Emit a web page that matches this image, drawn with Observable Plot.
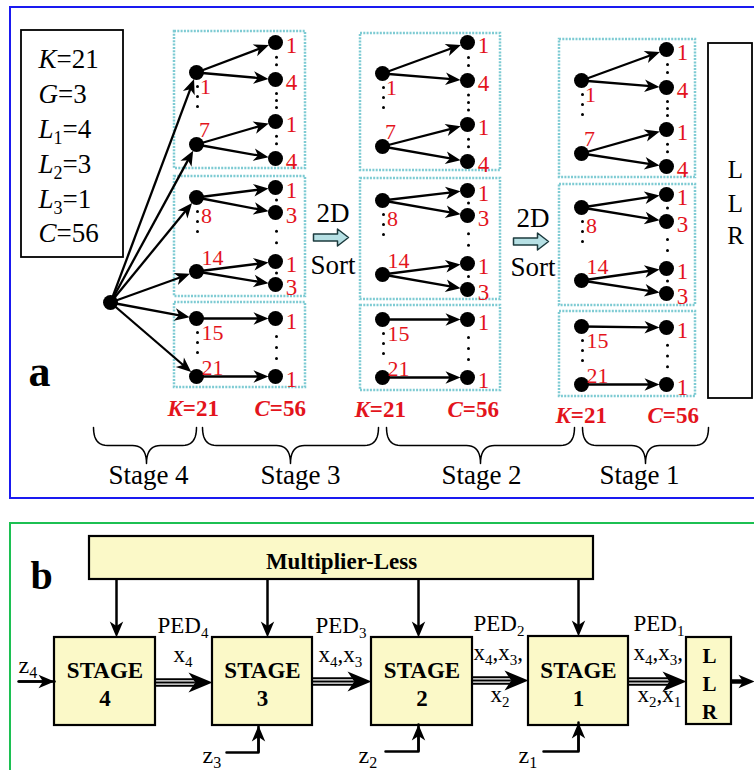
<!DOCTYPE html>
<html><head><meta charset="utf-8">
<script src="https://cdn.jsdelivr.net/npm/d3@7"></script>
<script src="https://cdn.jsdelivr.net/npm/@observablehq/plot@0.6"></script>
<style>html,body{margin:0;padding:0;background:#fff;} svg{display:block}</style>
</head><body><div id="chart"></div>
<script>
// ================= DATA =================
// Panel a: parameters
const paramLetters = ["K", "G", "L", "L", "L", "C"];
const paramSubs = ["", "", "1", "2", "3", ""];
const paramValues = ["=21", "=3", "=4", "=3", "=1", "=56"];
const paramBaselines = [67, 102, 137, 172, 207, 241];

// Panel a: tree nodes (three columns after Stage 4)
const rootNode = {x: 110, y: 302};
const colLeftX = [196, 382, 581];
const colRightX = [275, 467, 666];
const leftIds = ["1", "7", "8", "14", "15", "21"];
const leftY = [[72, 144, 197, 271, 318, 376], [73, 146, 200, 274, 319, 377], [80, 153, 207, 280, 326, 384]];
const rightIds = ["1", "4", "1", "4", "1", "3", "1", "3", "1", "1"];
const rightY = [[42, 79, 121, 158, 187, 212, 261, 284, 318, 376], [42, 80, 124, 161, 190, 215, 263, 289, 319, 377], [49, 87, 129, 166, 194, 221, 268, 293, 327, 384]];
const edgeFrom = [0, 0, 1, 1, 2, 2, 3, 3, 4, 5];
const leftLabelDx = [9, 8, 10, 16, 16, 16];
const leftLabelDy = [14, -15, 18, -14, 14, -9];
const groupX = [[174, 305], [360, 500], [559, 695]];
const groupY = [[[31, 168], [176, 296], [302, 387]], [[33, 170], [178, 299], [305, 390]], [[39, 177], [184, 305], [311, 396]]];
const leftGaps = [[0, 1], [2, 3], [4, 5]];
const rightGaps = [[0, 1, 2], [1, 2, 3], [2, 3, 2], [4, 5, 1], [5, 6, 2], [6, 7, 1], [8, 9, 3]];
const kLabelX = [167, 354, 555];
const cLabelX = [254, 447, 647];
const kcBaseline = [415, 416, 422];
const sortX = [[313, 348], [513, 548]];
const sortArrowY = [237, 241];
const sort2DY = [212, 217];
const sortWordY = [264, 266];
const stageNames = ["Stage 4", "Stage 3", "Stage 2", "Stage 1"];
const stageLabelX = [148, 300, 481, 639];
const braceX = [[93, 196, 146], [202, 378, 290], [386, 574, 480], [582, 708, 645]];
const llrLetters = ["L", "L", "R"];
const llrABaselines = [177, 211, 243];

// Panel b: block diagram
const stageBoxX = [[54, 155], [212, 312], [371, 472], [528, 628]];
const stageBoxDigits = ["4", "3", "2", "1"];
const stageBoxTop = [637, 637, 637, 636];
const multDownX = [116, 267, 418, 578];
const busY = [682, 681, 680, 681];
const busX = [[155, 212], [312, 371], [472, 528], [628, 686]];
const zInputs = [[[18, 681], [54, 681]], [[226, 752], [258, 752], [258, 725]], [[385, 751], [418, 751], [418, 724]], [[543, 751], [578, 751], [578, 722]]];
const zLabels = ["z_4", "z_3", "z_2", "z_1"];
const zLabelPos = [[18, 672], [202, 762], [358, 762], [518, 762]];
const busLabels = ["PED_4", "x_4", "PED_3", "x_4,x_3", "PED_2", "x_4,x_3,", "x_2", "PED_1", "x_4,x_3,", "x_2,x_1"];
const busLabelPos = [[157, 632], [173, 661], [315, 632], [318, 661], [473, 630], [473, 659], [490, 701], [633, 630], [633, 659], [637, 701]];
const llrBBaselines = [662, 690, 718];

// ================= HELPERS =================
const RED = "#e3141c", TEAL = "#7ecbd3", YELLOW = "#fbf9c8";
const meas = document.createElement("canvas").getContext("2d");
function tw(t, size, italic, bold) {
  meas.font = `${italic ? "italic " : ""}${bold ? "bold " : ""}${size}px "Liberation Serif"`;
  return meas.measureText(t).width;
}
const runs = [];
function addRich(x, y, segs, size, fill = "#000", anchor = "start") {
  const items = segs.map(s => ({...s, size: s.sub ? Math.round(size * 0.65) : size}));
  const w = items.reduce((a, s) => a + tw(s.t, s.size, s.italic, s.bold), 0);
  let cx = anchor === "middle" ? x - w / 2 : x;
  for (const s of items) {
    runs.push({x: cx, y: y + (s.sub ? size * 0.24 : 0), t: s.t, size: s.size, italic: !!s.italic, bold: !!s.bold, fill});
    cx += tw(s.t, s.size, s.italic, s.bold);
  }
}
function parseSubs(str, extra = {}) {
  const segs = []; let buf = "";
  for (let i = 0; i < str.length; i++) {
    if (str[i] === "_") { if (buf) segs.push({t: buf, ...extra}); buf = ""; segs.push({t: str[i + 1], sub: true, ...extra}); i++; }
    else buf += str[i];
  }
  if (buf) segs.push({t: buf, ...extra});
  return segs;
}
const stealth = {
  draw(ctx, size) {
    const L = Math.sqrt(size / Math.PI), w = L * 0.42;
    ctx.moveTo(0, 0); ctx.lineTo(-L, -w); ctx.lineTo(-L * 0.72, 0); ctx.lineTo(-L, w); ctx.closePath();
  }
};
function makeArrow(list, x1, y1, x2, y2, gap, L, extra = {}) {
  const dx = x2 - x1, dy = y2 - y1, d = Math.hypot(dx, dy), ux = dx / d, uy = dy / d;
  const tx = x2 - ux * gap, ty = y2 - uy * gap;
  list.push({x1, y1, x2: tx - ux * L * 0.65, y2: ty - uy * L * 0.65, tx, ty, angle: Math.atan2(dy, dx) * 180 / Math.PI, ...extra});
}

// ================= BUILD PANEL a =================
const nodes = [{x: rootNode.x, y: rootNode.y}];
const arrowsA = [];
const ellipsisDots = [];
const groupRects = [];
for (let c = 0; c < 3; c++) {
  leftY[c].forEach(y => nodes.push({x: colLeftX[c], y}));
  rightY[c].forEach(y => nodes.push({x: colRightX[c], y}));
  rightY[c].forEach((y, j) => makeArrow(arrowsA, colLeftX[c], leftY[c][edgeFrom[j]], colRightX[c], y, 7, 14));
  groupY[c].forEach(([y1, y2]) => groupRects.push({x1: groupX[c][0], x2: groupX[c][1], y1, y2}));
  leftGaps.forEach(([a]) => { for (let k = 0; k < 3; k++) ellipsisDots.push({x: colLeftX[c] + 1, y: leftY[c][a] + 14 + 10 * k}); });
  rightGaps.forEach(([a, b, n]) => {
    const ya = rightY[c][a] + 7, yb = rightY[c][b] - 7;
    for (let k = 1; k <= n; k++) ellipsisDots.push({x: colRightX[c] + 1, y: ya + (yb - ya) * k / (n + 1)});
  });
  leftIds.forEach((t, i) => addRich(colLeftX[c] + leftLabelDx[i], leftY[c][i] + leftLabelDy[i] + 7.5, [{t}], 22, RED, "middle"));
  rightIds.forEach((t, i) => addRich(colRightX[c] + 16, rightY[c][i] + 3 + 7.5, [{t}], 23, RED, "middle"));
  addRich(kLabelX[c], kcBaseline[c], [{t: "K", italic: true, bold: true}, {t: "=21", bold: true}], 23, RED);
  addRich(cLabelX[c], kcBaseline[c], [{t: "C", italic: true, bold: true}, {t: "=56", bold: true}], 23, RED);
}
leftY[0].forEach(y => makeArrow(arrowsA, rootNode.x, rootNode.y, colLeftX[0], y, 7, 14));

paramLetters.forEach((l, i) => {
  const segs = [{t: l, italic: true}];
  if (paramSubs[i]) segs.push({t: paramSubs[i], sub: true});
  segs.push({t: paramValues[i]});
  addRich(38, paramBaselines[i], segs, 27);
});
addRich(28, 385, [{t: "a", bold: true}], 44);
sortX.forEach(([x1, x2], i) => {
  const cx = (x1 + x2) / 2 + 2;
  addRich(cx, sort2DY[i] + 9, [{t: "2D"}], 27, "#000", "middle");
  addRich(cx, sortWordY[i] + 9, [{t: "Sort"}], 27, "#000", "middle");
});
const blockArrows = [];
sortX.forEach(([x1, x2], i) => {
  const y = sortArrowY[i], b = 3.5, h = 8.5, hl = 11;
  [[x1, y - b], [x2 - hl, y - b], [x2 - hl, y - h], [x2, y], [x2 - hl, y + h], [x2 - hl, y + b], [x1, y + b], [x1, y - b]]
    .forEach(([x, yy]) => blockArrows.push({id: i, x, y: yy}));
});
llrLetters.forEach((t, i) => addRich(735, llrABaselines[i], [{t}], 25, "#000", "middle"));
stageNames.forEach((t, i) => addRich(stageLabelX[i], 483, [{t}], 27, "#000", "middle"));

function bracePts(id, x1, x2, xm, y0, h, q) {
  const pts = [], ym = y0 + h / 2, yt = y0 + h;
  const quad = (p0, c, p1, n = 10) => {
    for (let i = 0; i <= n; i++) {
      const t = i / n;
      pts.push({id, x: (1 - t) ** 2 * p0[0] + 2 * (1 - t) * t * c[0] + t * t * p1[0], y: (1 - t) ** 2 * p0[1] + 2 * (1 - t) * t * c[1] + t * t * p1[1]});
    }
  };
  quad([x1, y0], [x1, ym], [x1 + q, ym]);
  quad([xm - q, ym], [xm, ym], [xm, yt]);
  quad([xm, yt], [xm, ym], [xm + q, ym]);
  quad([x2 - q, ym], [x2, ym], [x2, y0]);
  return pts;
}
const braces = braceX.flatMap(([x1, x2, xm], i) => bracePts(i, x1, x2, xm, 427, 36, 14));

// ================= BUILD PANEL b =================
const boxesB = stageBoxX.map(([x1, x2], i) => ({x1, x2, y1: stageBoxTop[i], y2: 725}));
boxesB.push({x1: 686, x2: 731, y1: 637, y2: 724});
const multBox = [{x1: 89, x2: 593, y1: 536, y2: 579}];
const arrowsB = [];
multDownX.forEach((x, i) => makeArrow(arrowsB, x, 579, x, stageBoxTop[i], 0, 16));
const zLines = [];
zInputs.forEach((pts, i) => {
  pts.forEach(([x, y]) => zLines.push({id: i, x, y}));
  const a = pts[pts.length - 2], b = pts[pts.length - 1];
  makeArrow(arrowsB, a[0], a[1], b[0], b[1], 0, 16);
});
const busArrows = [];
busX.forEach(([x1, x2], i) => makeArrow(busArrows, x1, busY[i], x2, busY[i], 0, 24));
const busLines = busArrows.flatMap(a => [-3.3, 0, 3.3].map(o => ({x1: a.x1, x2: a.x2 - 2, y: a.y1 + o})));
const outArrow = [];
makeArrow(outArrow, 731, 681, 754, 681, 0, 16);

addRich(30, 588, [{t: "b", bold: true}], 40);
addRich(341, 568, [{t: "Multiplier-Less", bold: true}], 23, "#000", "middle");
stageBoxX.forEach(([x1, x2], i) => {
  const cx = (x1 + x2) / 2;
  addRich(cx, 677, [{t: "STAGE", bold: true}], 23, "#000", "middle");
  addRich(cx, 705, [{t: stageBoxDigits[i], bold: true}], 23, "#000", "middle");
});
llrLetters.forEach((t, i) => addRich(709, llrBBaselines[i], [{t, bold: true}], 21, "#000", "middle"));
busLabels.forEach((s, i) => addRich(busLabelPos[i][0], busLabelPos[i][1], parseSubs(s), 23));
zLabels.forEach((s, i) => addRich(zLabelPos[i][0], zLabelPos[i][1], parseSubs(s), 24));

// ================= PLOT =================
const textMark = (italic, bold) => Plot.text(runs.filter(r => r.italic === italic && r.bold === bold), {
  x: "x", y: "y", text: "t", fontSize: d => d.size, fill: "fill",
  textAnchor: "start", lineAnchor: "bottom",
  fontStyle: italic ? "italic" : "normal", fontWeight: bold ? "bold" : "normal"
});

const chart = Plot.plot({
  width: 754, height: 770, margin: 0,
  x: {type: "identity", axis: null}, y: {type: "identity", axis: null},
  color: {type: "identity"},
  style: {fontFamily: '"Liberation Serif", "Times New Roman", serif', background: "#fff"},
  marks: [
    // panel frames
    Plot.rect([{x1: 10, x2: 800, y1: 7, y2: 498}], {x1: "x1", x2: "x2", y1: "y1", y2: "y2", fill: "none", stroke: "#1a1af0", strokeWidth: 2}),
    Plot.rect([{x1: 10, x2: 800, y1: 523, y2: 800}], {x1: "x1", x2: "x2", y1: "y1", y2: "y2", fill: "none", stroke: "#1cc052", strokeWidth: 2}),
    // panel a boxes
    Plot.rect([{x1: 21, x2: 123, y1: 30, y2: 257}], {x1: "x1", x2: "x2", y1: "y1", y2: "y2", fill: "none", stroke: "#000", strokeWidth: 1.8}),
    Plot.rect([{x1: 708, x2: 752, y1: 43, y2: 398}], {x1: "x1", x2: "x2", y1: "y1", y2: "y2", fill: "none", stroke: "#000", strokeWidth: 1.8}),
    Plot.rect(groupRects, {x1: "x1", x2: "x2", y1: "y1", y2: "y2", fill: "none", stroke: TEAL, strokeWidth: 2.5, strokeDasharray: "2 1.3"}),
    // panel a arrows
    Plot.link(arrowsA, {x1: "x1", y1: "y1", x2: "x2", y2: "y2", stroke: "#000", strokeWidth: 2.3}),
    Plot.dot(arrowsA, {x: "tx", y: "ty", r: 15, rotate: "angle", symbol: stealth, fill: "#000", stroke: "none"}),
    Plot.dot(nodes, {x: "x", y: "y", r: 7.5, fill: "#000", stroke: "none"}),
    Plot.dot(ellipsisDots, {x: "x", y: "y", r: 1.5, fill: "#000", stroke: "none"}),
    Plot.line(blockArrows, {x: "x", y: "y", z: "id", fill: "#b6e0e4", stroke: "#1d3b3e", strokeWidth: 1.5, curve: "linear"}),
    Plot.line(braces, {x: "x", y: "y", z: "id", stroke: "#000", strokeWidth: 1.5}),
    // panel b
    Plot.rect(multBox, {x1: "x1", x2: "x2", y1: "y1", y2: "y2", fill: YELLOW, stroke: "#000", strokeWidth: 2.2}),
    Plot.rect(boxesB, {x1: "x1", x2: "x2", y1: "y1", y2: "y2", fill: YELLOW, stroke: "#000", strokeWidth: 2.2}),
    Plot.line(zLines, {x: "x", y: "y", z: "id", stroke: "#000", strokeWidth: 2.5}),
    Plot.link(arrowsB, {x1: "x1", y1: "y1", x2: "x2", y2: "y2", stroke: "#000", strokeWidth: 2.5}),
    Plot.dot(arrowsB, {x: "tx", y: "ty", r: 16, rotate: "angle", symbol: stealth, fill: "#000", stroke: "none"}),
    Plot.link(busLines, {x1: "x1", x2: "x2", y1: "y", y2: "y", stroke: "#000", strokeWidth: 2.1}),
    Plot.dot(busArrows, {x: "tx", y: "ty", r: 24, rotate: "angle", symbol: stealth, fill: "#000", stroke: "none"}),
    Plot.link(outArrow, {x1: "x1", y1: "y1", x2: "x2", y2: "y2", stroke: "#000", strokeWidth: 4.5}),
    Plot.dot(outArrow, {x: "tx", y: "ty", r: 16, rotate: "angle", symbol: stealth, fill: "#000", stroke: "none"}),
    // text
    textMark(false, false), textMark(true, false), textMark(false, true), textMark(true, true)
  ]
});
document.getElementById("chart").appendChild(chart);
</script></body></html>
